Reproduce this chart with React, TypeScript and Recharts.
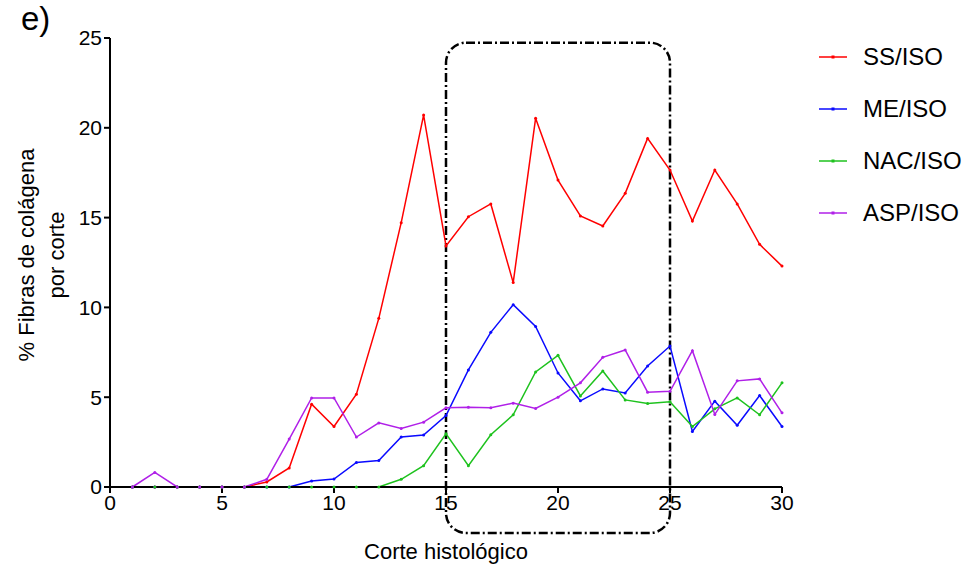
import { LineChart, Line, XAxis, YAxis, ReferenceArea } from 'recharts';

const FONT = '"Liberation Sans", Arial, sans-serif';

const cortes = [1, 2, 3, 4, 5, 6, 7, 8, 9, 10, 11, 12, 13, 14, 15, 16, 17, 18, 19, 20, 21, 22, 23, 24, 25, 26, 27, 28, 29, 30];

const ssIso = [0, 0, 0, 0, 0, 0, 0.28, 1.06, 4.61, 3.37, 5.17, 9.39, 14.72, 20.71, 13.42, 15.05, 15.76, 11.38, 20.53, 17.09, 15.09, 14.53, 16.35, 19.41, 17.65, 14.81, 17.65, 15.76, 13.51, 12.3];
const meIso = [0, 0, 0, 0, 0, 0, 0, 0, 0.33, 0.44, 1.37, 1.48, 2.78, 2.89, 3.98, 6.52, 8.61, 10.15, 8.94, 6.35, 4.8, 5.46, 5.24, 6.74, 7.85, 3.09, 4.78, 3.44, 5.09, 3.37];
const nacIso = [0, 0, 0, 0, 0, 0, 0, 0, 0, 0, 0, 0, 0.43, 1.19, 2.96, 1.19, 2.91, 4.02, 6.41, 7.33, 5.07, 6.46, 4.85, 4.65, 4.74, 3.37, 4.35, 4.96, 4.02, 5.8];
const aspIso = [0, 0.81, 0, 0, 0, 0, 0.43, 2.67, 4.96, 4.96, 2.78, 3.57, 3.26, 3.61, 4.41, 4.44, 4.41, 4.67, 4.37, 5.0, 5.8, 7.22, 7.63, 5.28, 5.33, 7.59, 4.04, 5.91, 6.02, 4.13];

const xTicks = [0, 5, 10, 15, 20, 25, 30];
const yTicks = [0, 5, 10, 15, 20, 25];

const SERIES = [
  { key: 'ss', name: 'SS/ISO', color: '#ff0000' },
  { key: 'me', name: 'ME/ISO', color: '#0a0aff' },
  { key: 'nac', name: 'NAC/ISO', color: '#1ec21e' },
  { key: 'asp', name: 'ASP/ISO', color: '#b020e8' },
];

const data = cortes.map((x, i) => ({
  x,
  ss: ssIso[i],
  me: meIso[i],
  nac: nacIso[i],
  asp: aspIso[i],
}));

function ChartLegend() {
  return (
    <div style={{ position: 'absolute', left: 819, top: 31, fontFamily: FONT }}>
      {SERIES.map((s) => (
        <div key={s.key} style={{ display: 'flex', alignItems: 'center', height: 52 }}>
          <svg width={44} height={10}>
            <line x1={0} y1={5} x2={28} y2={5} stroke={s.color} strokeWidth={1.5} />
            <rect x={12.5} y={3.5} width={3} height={3} fill={s.color} />
          </svg>
          <span style={{ fontSize: 24, color: '#000' }}>{s.name}</span>
        </div>
      ))}
    </div>
  );
}

function DashedBox(props: any) {
  const { x, y, width, height } = props;
  return (
    <rect
      x={x}
      y={y}
      width={width}
      height={height}
      rx={20}
      ry={20}
      fill="none"
      stroke="#000"
      strokeWidth={2.5}
      strokeDasharray="9 3 2 3"
    />
  );
}

export default function App() {
  return (
    <div style={{ position: 'absolute', left: 0, top: 0, width: 967, height: 569, background: '#fff' }}>
      <div style={{ position: 'absolute', left: 21, top: 0, fontFamily: FONT, fontSize: 33 }}>e)</div>
      <LineChart
        width={967}
        height={569}
        data={data}
        margin={{ top: 38, right: 185, bottom: 22, left: 50 }}
      >
        <XAxis
          dataKey="x"
          type="number"
          domain={[0, 30]}
          ticks={xTicks}
          tickSize={6}
          stroke="#000"
          strokeWidth={2}
          height={60}
          tick={{ fill: '#000', fontSize: 21, fontFamily: FONT }}
          label={{
            content: (p: any) => (
              <text
                x={p.viewBox.x + p.viewBox.width / 2}
                y={p.viewBox.y + 72}
                textAnchor="middle"
                fontSize={22}
                fontFamily={FONT}
                fill="#000"
              >
                Corte histológico
              </text>
            ),
          }}
        />
        <YAxis
          type="number"
          domain={[0, 25]}
          ticks={yTicks}
          tickSize={6}
          stroke="#000"
          strokeWidth={2}
          width={60}
          interval={0}
          tick={{ fill: '#000', fontSize: 21, fontFamily: FONT }}
          label={{
            content: () => (
              <g fontSize={22} fontFamily={FONT} fill="#000">
                <text x={27} y={255} textAnchor="middle" transform="rotate(-90, 27, 255)" dy={7}>
                  % Fibras de colágena
                </text>
                <text x={57} y={255} textAnchor="middle" transform="rotate(-90, 57, 255)" dy={7}>
                  por corte
                </text>
              </g>
            ),
          }}
        />
        <ReferenceArea
          x1={15}
          x2={25}
          y1={-2.56}
          y2={24.74}
          ifOverflow="visible"
          shape={DashedBox}
        />
        {SERIES.map((s) => (
          <Line
            key={s.key}
            dataKey={s.key}
            name={s.name}
            type="linear"
            stroke={s.color}
            strokeWidth={1.5}
            dot={{ r: 1.5, fill: s.color, stroke: s.color, strokeWidth: 0 }}
            isAnimationActive={false}
          />
        ))}
      </LineChart>
      <ChartLegend />
    </div>
  );
}
